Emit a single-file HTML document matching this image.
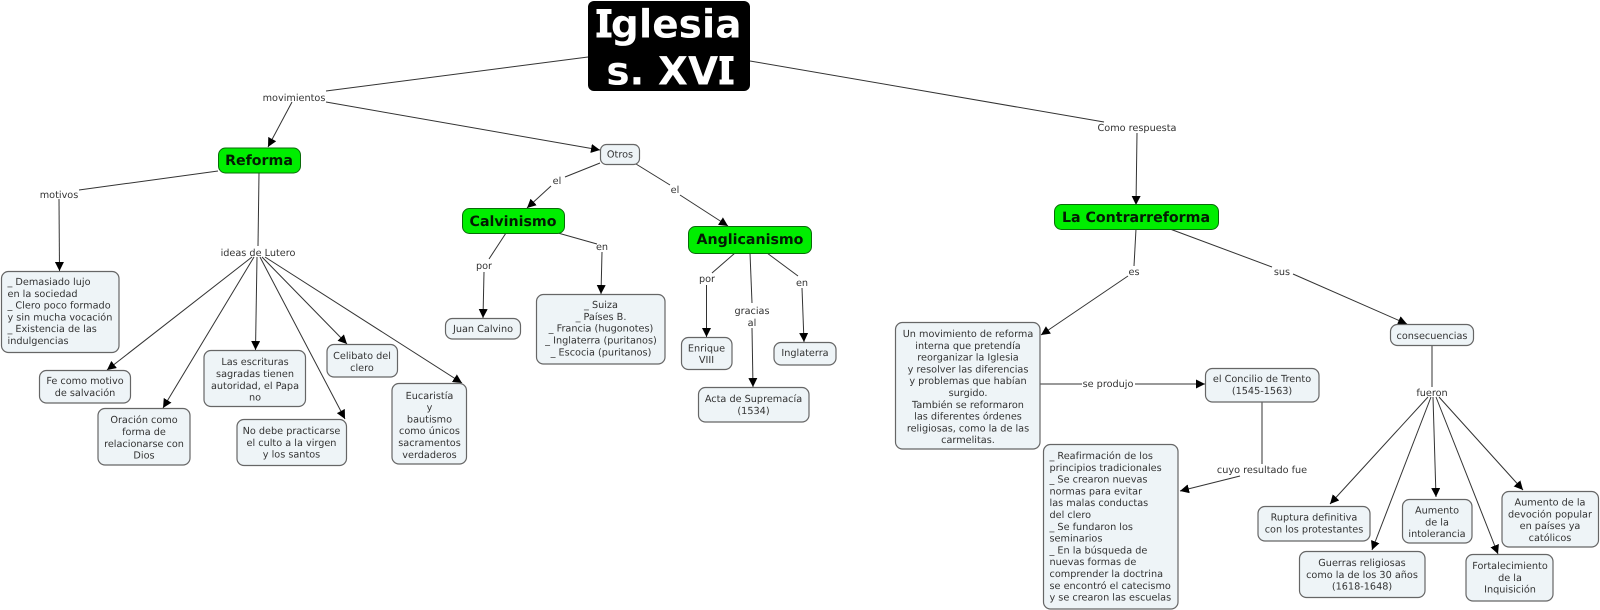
<!DOCTYPE html>
<html lang="es">
<head>
<meta charset="utf-8">
<title>Iglesia s. XVI</title>
<style>
html,body{margin:0;padding:0;background:#fff;width:1600px;height:610px;overflow:hidden}
svg{display:block;text-rendering:geometricPrecision;filter:blur(.3px)}
text{font-family:"DejaVu Sans","Liberation Sans",sans-serif;font-size:9.7px;fill:#333;text-anchor:middle}
.l{text-anchor:start}
.h{font-weight:bold;font-size:14.2px;fill:#041a04}
.t{font-weight:bold;font-size:39px;fill:#fff}
.b{fill:#eef4f7;stroke:#666;stroke-width:1.2}
.g{fill:#00ee00;stroke:#0a6a0a;stroke-width:1}
line{stroke:#333;stroke-width:1}
.a{marker-end:url(#m)}
</style>
</head>
<body>
<svg width="1600" height="610" viewBox="0 0 1600 610" xmlns="http://www.w3.org/2000/svg">
<defs>
<marker id="m" viewBox="0 0 10 10" refX="10" refY="5" markerWidth="9" markerHeight="9" markerUnits="userSpaceOnUse" orient="auto">
<path d="M0 0L10 5L0 10Z" fill="#000"/>
</marker>
</defs>

<!-- connectors -->
<line x1="588" y1="57" x2="326" y2="91"/>
<line class="a" x1="326" y1="102" x2="600" y2="150"/>
<line class="a" x1="292" y1="102" x2="268" y2="147"/>
<line x1="750" y1="61" x2="1104" y2="122"/>
<line class="a" x1="1137" y1="133" x2="1136" y2="205"/>

<line x1="218" y1="171" x2="79" y2="190"/>
<line class="a" x1="59" y1="199" x2="59.5" y2="271"/>
<line x1="259" y1="173" x2="258" y2="246"/>
<line class="a" x1="252" y1="257" x2="107" y2="370"/>
<line class="a" x1="254" y1="257" x2="163" y2="408"/>
<line class="a" x1="257" y1="257" x2="255.5" y2="350"/>
<line class="a" x1="260" y1="257" x2="345" y2="419"/>
<line class="a" x1="262" y1="257" x2="347" y2="344"/>
<line class="a" x1="265" y1="257" x2="462" y2="383"/>

<line x1="600" y1="163" x2="565" y2="177"/>
<line class="a" x1="551" y1="186" x2="527" y2="208"/>
<line x1="636" y1="164" x2="670" y2="185"/>
<line class="a" x1="680" y1="195" x2="728" y2="226"/>

<line x1="506" y1="233" x2="489" y2="259"/>
<line class="a" x1="484" y1="272" x2="483" y2="318"/>
<line x1="558" y1="233" x2="597" y2="244"/>
<line class="a" x1="602" y1="252" x2="601" y2="294"/>

<line x1="735" y1="253" x2="712" y2="273"/>
<line class="a" x1="706.5" y1="285" x2="706.5" y2="337"/>
<line x1="750" y1="253" x2="752" y2="303"/>
<line class="a" x1="752" y1="328" x2="753" y2="387"/>
<line x1="767" y1="253" x2="798" y2="276"/>
<line class="a" x1="802" y1="288" x2="804" y2="342"/>

<line x1="1136" y1="229" x2="1134" y2="266"/>
<line class="a" x1="1128" y1="276" x2="1041" y2="335"/>
<line x1="1170" y1="229" x2="1272" y2="267"/>
<line class="a" x1="1293" y1="274" x2="1407" y2="324"/>

<line x1="1040" y1="384" x2="1082" y2="384"/>
<line class="a" x1="1135" y1="384" x2="1205" y2="384"/>
<line x1="1262" y1="402" x2="1262" y2="464"/>
<line class="a" x1="1240" y1="476" x2="1180" y2="491"/>

<line x1="1432" y1="345" x2="1432" y2="387"/>
<line class="a" x1="1428" y1="397" x2="1330" y2="504"/>
<line class="a" x1="1431" y1="397" x2="1372" y2="550"/>
<line class="a" x1="1433" y1="397" x2="1436" y2="497"/>
<line class="a" x1="1436" y1="397" x2="1498" y2="554"/>
<line class="a" x1="1439" y1="397" x2="1523" y2="490"/>

<!-- linking labels -->
<text x="294" y="101">movimientos</text>
<text x="1137" y="131">Como respuesta</text>
<text x="59" y="198">motivos</text>
<text x="258" y="256">ideas de Lutero</text>
<text x="557" y="184">el</text>
<text x="675" y="193">el</text>
<text x="484" y="269">por</text>
<text x="602" y="250">en</text>
<text x="707" y="282">por</text>
<text x="752" y="314">gracias</text>
<text x="752" y="326">al</text>
<text x="802" y="286">en</text>
<text x="1134" y="275">es</text>
<text x="1282" y="275">sus</text>
<text x="1108" y="387">se produjo</text>
<text x="1262" y="473">cuyo resultado fue</text>
<text x="1432" y="396">fueron</text>

<!-- title -->
<rect x="588" y="1" width="162" height="90" rx="6" fill="#000"/>
<text class="t" x="669" y="37.500">Iglesia</text>
<text class="t" x="669.500" y="84.500">s. XVI</text>
<!-- serif bars on the capital I glyphs -->
<rect x="596.500" y="9" width="15" height="5" fill="#fff"/>
<rect x="596.500" y="32.500" width="15" height="5" fill="#fff"/>
<rect x="719.500" y="56" width="14" height="5" fill="#fff"/>
<rect x="719.500" y="79.500" width="14" height="5" fill="#fff"/>

<!-- green nodes -->
<rect class="g" x="218.500" y="148" width="82" height="25" rx="7"/>
<text class="h" x="259" y="165">Reforma</text>
<rect class="g" x="462.500" y="208.500" width="102" height="25" rx="7"/>
<text class="h" x="513" y="226">Calvinismo</text>
<rect class="g" x="688.500" y="226.500" width="123" height="27" rx="7"/>
<text class="h" x="750" y="244">Anglicanismo</text>
<rect class="g" x="1054.500" y="204.500" width="164" height="25" rx="7"/>
<text class="h" x="1136" y="222">La Contrarreforma</text>

<!-- Otros -->
<rect class="b" x="600.500" y="144.500" width="39" height="20" rx="6"/>
<text x="620" y="157.500">Otros</text>

<!-- Reforma children -->
<rect class="b" x="1.500" y="271.500" width="117.500" height="81" rx="7"/>
<text class="l" x="7.500" y="285">_ Demasiado lujo</text>
<text class="l" x="7.500" y="296.800">en la sociedad</text>
<text class="l" x="7.500" y="308.600">_ Clero poco formado</text>
<text class="l" x="7.500" y="320.400">y sin mucha vocación</text>
<text class="l" x="7.500" y="332.200">_ Existencia de las</text>
<text class="l" x="7.500" y="344">indulgencias</text>

<rect class="b" x="39.500" y="370.500" width="91" height="32.500" rx="7"/>
<text x="85" y="384">Fe como motivo</text>
<text x="85" y="396">de salvación</text>

<rect class="b" x="98" y="408.500" width="92" height="56.500" rx="7"/>
<text x="144" y="423">Oración como</text>
<text x="144" y="435">forma de</text>
<text x="144" y="447">relacionarse con</text>
<text x="144" y="458.500">Dios</text>

<rect class="b" x="204" y="350.500" width="101.500" height="56" rx="7"/>
<text x="255" y="365">Las escrituras</text>
<text x="255" y="377">sagradas tienen</text>
<text x="255" y="389">autoridad, el Papa</text>
<text x="255" y="400.500">no</text>

<rect class="b" x="237" y="419.500" width="109.500" height="46" rx="7"/>
<text x="291.500" y="434">No debe practicarse</text>
<text x="291.500" y="446">el culto a la virgen</text>
<text x="291.500" y="457.500">y los santos</text>

<rect class="b" x="327" y="344.500" width="70.500" height="32.500" rx="7"/>
<text x="362" y="359">Celibato del</text>
<text x="362" y="371">clero</text>

<rect class="b" x="392" y="383.500" width="74.500" height="80.500" rx="7"/>
<text x="429.500" y="399">Eucaristía</text>
<text x="429.500" y="410.500">y</text>
<text x="429.500" y="422.500">bautismo</text>
<text x="429.500" y="434">como únicos</text>
<text x="429.500" y="446">sacramentos</text>
<text x="429.500" y="458">verdaderos</text>

<!-- Calvinismo children -->
<rect class="b" x="445.500" y="318.500" width="75" height="20.500" rx="7"/>
<text x="483" y="332">Juan Calvino</text>

<rect class="b" x="536.500" y="294.500" width="128.500" height="69.500" rx="7"/>
<text x="601" y="308">_ Suiza</text>
<text x="601" y="320">_ Países B.</text>
<text x="601" y="331.500">_ Francia (hugonotes)</text>
<text x="601" y="343.500">_ Inglaterra (puritanos)</text>
<text x="601" y="355.500">_ Escocia (puritanos)</text>

<!-- Anglicanismo children -->
<rect class="b" x="681.500" y="337.500" width="50.500" height="32" rx="7"/>
<text x="706.500" y="351.500">Enrique</text>
<text x="706.500" y="363">VIII</text>

<rect class="b" x="774" y="342.500" width="62" height="22.500" rx="7"/>
<text x="805" y="356">Inglaterra</text>

<rect class="b" x="698.500" y="387.500" width="110.500" height="34.500" rx="7"/>
<text x="753.500" y="402">Acta de Supremacía</text>
<text x="753.500" y="414">(1534)</text>

<!-- Contrarreforma children -->
<rect class="b" x="895.500" y="322.500" width="144.500" height="126.500" rx="7"/>
<text x="968" y="337">Un movimiento de reforma</text>
<text x="968" y="348.800">interna que pretendía</text>
<text x="968" y="360.600">reorganizar la Iglesia</text>
<text x="968" y="372.400">y resolver las diferencias</text>
<text x="968" y="384.200">y problemas que habían</text>
<text x="968" y="396">surgido.</text>
<text x="968" y="407.800">También se reformaron</text>
<text x="968" y="419.600">las diferentes órdenes</text>
<text x="968" y="431.400">religiosas, como la de las</text>
<text x="968" y="443.200">carmelitas.</text>

<rect class="b" x="1205.500" y="368.500" width="113.500" height="33.500" rx="7"/>
<text x="1262" y="382">el Concilio de Trento</text>
<text x="1262" y="394">(1545-1563)</text>

<rect class="b" x="1043.500" y="444.500" width="134.500" height="164.500" rx="7"/>
<text class="l" x="1049.500" y="459">_ Reafirmación de los</text>
<text class="l" x="1049.500" y="470.800">principios tradicionales</text>
<text class="l" x="1049.500" y="482.600">_ Se crearon nuevas</text>
<text class="l" x="1049.500" y="494.400">normas para evitar</text>
<text class="l" x="1049.500" y="506.200">las malas conductas</text>
<text class="l" x="1049.500" y="518">del clero</text>
<text class="l" x="1049.500" y="529.800">_ Se fundaron los</text>
<text class="l" x="1049.500" y="541.600">seminarios</text>
<text class="l" x="1049.500" y="553.400">_ En la búsqueda de</text>
<text class="l" x="1049.500" y="565.200">nuevas formas de</text>
<text class="l" x="1049.500" y="577">comprender la doctrina</text>
<text class="l" x="1049.500" y="588.800">se encontró el catecismo</text>
<text class="l" x="1049.500" y="600.600">y se crearon las escuelas</text>

<rect class="b" x="1390.500" y="324.500" width="83" height="21" rx="7"/>
<text x="1432" y="339">consecuencias</text>

<rect class="b" x="1258" y="506.500" width="112" height="34.500" rx="7"/>
<text x="1314" y="520.500">Ruptura definitiva</text>
<text x="1314" y="532.500">con los protestantes</text>

<rect class="b" x="1299.500" y="551.500" width="125.500" height="46" rx="7"/>
<text x="1362" y="566">Guerras religiosas</text>
<text x="1362" y="578">como la de los 30 años</text>
<text x="1362" y="589.500">(1618-1648)</text>

<rect class="b" x="1402.500" y="499.500" width="69.500" height="43.500" rx="7"/>
<text x="1437" y="513.500">Aumento</text>
<text x="1437" y="525.500">de la</text>
<text x="1437" y="537">intolerancia</text>

<rect class="b" x="1466" y="554.500" width="87" height="46.500" rx="7"/>
<text x="1510" y="569">Fortalecimiento</text>
<text x="1510" y="581">de la</text>
<text x="1510" y="592.500">Inquisición</text>

<rect class="b" x="1502" y="491.500" width="96.500" height="55.500" rx="7"/>
<text x="1550" y="505.500">Aumento de la</text>
<text x="1550" y="517.500">devoción popular</text>
<text x="1550" y="529">en países ya</text>
<text x="1550" y="541">católicos</text>
</svg>
</body>
</html>
